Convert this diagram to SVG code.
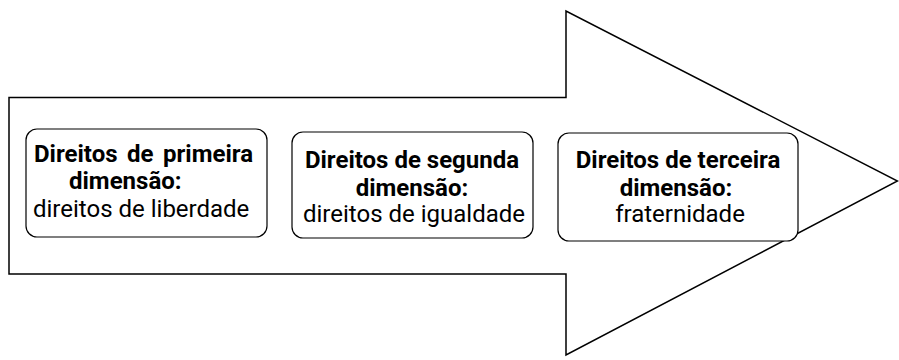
<svg xmlns="http://www.w3.org/2000/svg" width="899" height="360" viewBox="0 0 899 360">
<style>
.arrow{fill:#fff;stroke:#000;stroke-width:1.5}
.box{fill:#fff;stroke:#000;stroke-width:1.2}
.b{font-family:Roboto,"Liberation Sans",sans-serif;font-weight:bold;font-size:24px;fill:#000}
.r{font-family:Roboto,"Liberation Sans",sans-serif;font-size:24px;fill:#000}
</style>
<rect width="899" height="360" fill="#fff"/>
<g id="arrow">
<path class="arrow" d="M9,97.5 H566 V11 L897.5,181 L566,355 V274 H9 Z"/>
</g>
<g id="node1">
<rect class="box" x="26" y="129" width="241" height="108" rx="11"/>
<text class="b" x="34" y="162">Direitos</text>
<text class="b" x="127" y="162">de</text>
<text class="b" x="163" y="162">primeira</text>
<text class="b" x="69" y="189">dimensão:</text>
<text class="r" x="33" y="217">direitos de liberdade</text>
</g>
<g id="node2">
<rect class="box" x="292" y="132" width="241" height="106" rx="11"/>
<text class="b" x="412" y="168" text-anchor="middle">Direitos de segunda</text>
<text class="b" x="412" y="196" text-anchor="middle">dimensão:</text>
<text class="r" x="414" y="222" text-anchor="middle">direitos de igualdade</text>
</g>
<g id="node3">
<rect class="box" x="558" y="133" width="240" height="108" rx="11"/>
<text class="b" x="678" y="168" text-anchor="middle">Direitos de terceira</text>
<text class="b" x="676" y="196" text-anchor="middle">dimensão:</text>
<text class="r" x="680" y="222" text-anchor="middle">fraternidade</text>
</g>
<g id="connectors"></g>
</svg>
